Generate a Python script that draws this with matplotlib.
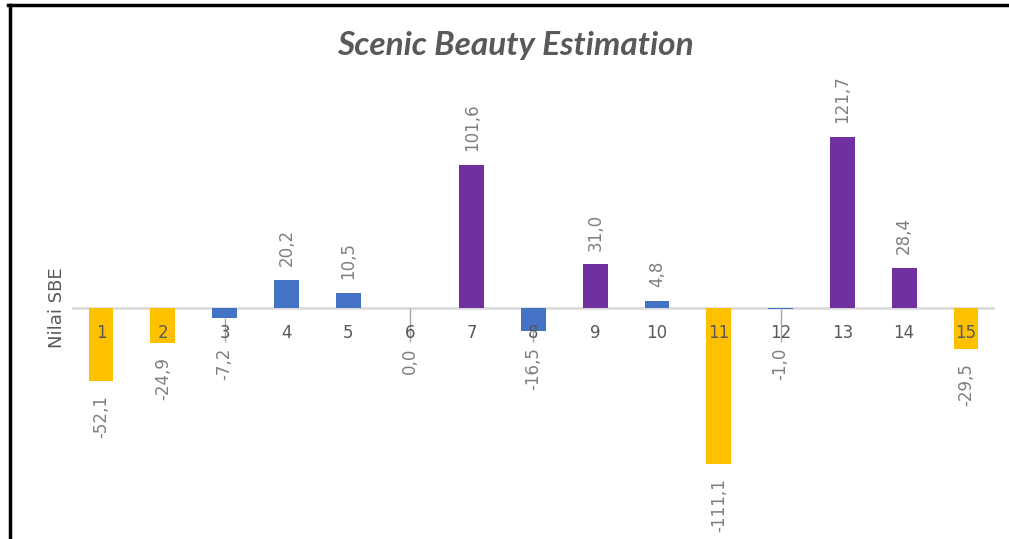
import matplotlib
matplotlib.use("Agg")
from matplotlib import pyplot as plt
from matplotlib.lines import Line2D

# data
categories = [str(i) for i in range(1, 16)]
sbe_values = [-52.1, -24.9, -7.2, 20.2, 10.5, 0.0, 101.6, -16.5, 31.0, 4.8,
              -111.1, -1.0, 121.7, 28.4, -29.5]
groups = ["low", "low", "mid", "mid", "mid", "mid", "high", "mid", "high", "mid",
          "low", "mid", "high", "high", "low"]

group_colors = {"low": "#FFC000", "mid": "#4472C4", "high": "#7030A0"}

W, H = 1009, 539
fig = plt.figure(figsize=(W / 100, H / 100), dpi=100)

# axes placed in pixel coords: x 72..995, y 90..539 (top..bottom)
ax = fig.add_axes([72 / W, 0, (995 - 72) / W, (539 - 90) / H])
ax.set_xlim(0.53, 15.47)
ax.set_ylim(-164.4, 155.2)

x = list(range(1, 16))
colors = [group_colors[g] for g in groups]
ax.bar(x, sbe_values, width=0.4, color=colors, zorder=2)
ax.axhline(0, color="#D9D9D9", lw=1.8, zorder=1)

for s in ax.spines.values():
    s.set_visible(False)
ax.set_xticks([])
ax.set_yticks([])

# category labels sitting just under the zero line
for xi, lab in zip(x, categories):
    ax.annotate(lab, (xi, 0), xytext=(0, -18), textcoords="offset points",
                ha="center", va="center", fontsize=12, color="#595959", zorder=4)

# data labels, rotated; small negatives pushed down with a leader line
for xi, v in zip(x, sbe_values):
    txt = f"{v:.1f}".replace(".", ",")
    if v > 0:
        ax.annotate(txt, (xi, v), xytext=(0, 10), textcoords="offset points",
                    rotation=90, ha="center", va="bottom", fontsize=12, color="#7F7F7F")
    else:
        anchor = min(v, -18)
        if anchor != v:
            ax.vlines(xi, anchor - 6, v, color="#A6A6A6", lw=1, zorder=3)
        ax.annotate(txt, (xi, anchor), xytext=(0, -10), textcoords="offset points",
                    rotation=90, ha="center", va="top", fontsize=12, color="#7F7F7F")

fig.text(515 / W, 1 - 46 / H, "Scenic Beauty Estimation", fontsize=24, fontweight="bold",
         fontstyle="italic", family="Lato", color="#595959", ha="center", va="center")
fig.text(57 / W, 1 - 308 / H, "Nilai SBE", rotation=90, fontsize=13, color="#595959",
         ha="center", va="center")

# chart border (left + top, the rest is cropped)
fig.add_artist(Line2D([9.5 / W, 9.5 / W], [0, 1 - 5 / H], transform=fig.transFigure,
                      color="black", lw=2.5))
fig.add_artist(Line2D([8 / W, 1], [1 - 5 / H, 1 - 5 / H], transform=fig.transFigure,
                      color="black", lw=2.5))

fig.savefig("out.png", dpi=100)
